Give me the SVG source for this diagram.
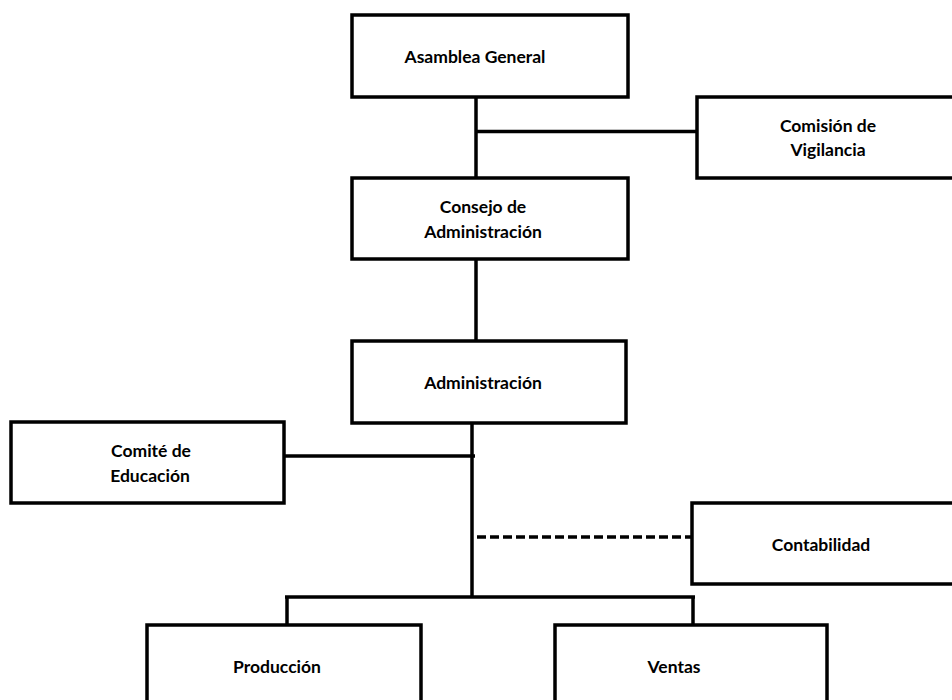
<svg xmlns="http://www.w3.org/2000/svg" width="952" height="700" viewBox="0 0 952 700">
<style>
.box{fill:#fff;stroke:#000;stroke-width:3.5}
.ln{stroke:#000;stroke-width:3.5;fill:none}
.dash{stroke:#000;stroke-width:3.5;fill:none;stroke-dasharray:9 4}
text{font-family:Lato,"Liberation Sans",sans-serif;font-weight:bold;font-size:17.5px;fill:#000;text-anchor:middle}
</style>
<rect width="952" height="700" fill="#fff"/>
<g id="connectors">
<line class="ln" x1="476" y1="97" x2="476" y2="178"/>
<line class="ln" x1="476" y1="131.5" x2="697" y2="131.5"/>
<line class="ln" x1="476" y1="259" x2="476" y2="341"/>
<line class="ln" x1="472" y1="423" x2="472" y2="597"/>
<line class="ln" x1="280" y1="456" x2="475" y2="456"/>
<line class="dash" x1="477" y1="537" x2="692" y2="537"/>
<line class="ln" x1="285" y1="597" x2="695" y2="597"/>
<line class="ln" x1="287" y1="597" x2="287" y2="625"/>
<line class="ln" x1="693" y1="597" x2="693" y2="625"/>
</g>
<g id="asamblea">
<rect class="box" x="352" y="15" width="276" height="82"/>
<text x="475" y="63">Asamblea General</text>
</g>
<g id="comision">
<rect class="box" x="697" y="97" width="280" height="81"/>
<text x="828" y="132">Comisión de</text>
<text x="828" y="156">Vigilancia</text>
</g>
<g id="consejo">
<rect class="box" x="352" y="178" width="276" height="81"/>
<text x="483" y="213">Consejo de</text>
<text x="483" y="238">Administración</text>
</g>
<g id="administracion">
<rect class="box" x="352" y="341" width="274" height="82"/>
<text x="483" y="389">Administración</text>
</g>
<g id="comite">
<rect class="box" x="11" y="422" width="273" height="81"/>
<text x="151" y="457">Comité de</text>
<text x="150" y="482">Educación</text>
</g>
<g id="contabilidad">
<rect class="box" x="692" y="503" width="280" height="81"/>
<text x="821" y="551">Contabilidad</text>
</g>
<g id="produccion">
<rect class="box" x="147" y="625" width="274" height="100"/>
<text x="277" y="673">Producción</text>
</g>
<g id="ventas">
<rect class="box" x="555" y="625" width="272" height="100"/>
<text x="674" y="673">Ventas</text>
</g>
</svg>
